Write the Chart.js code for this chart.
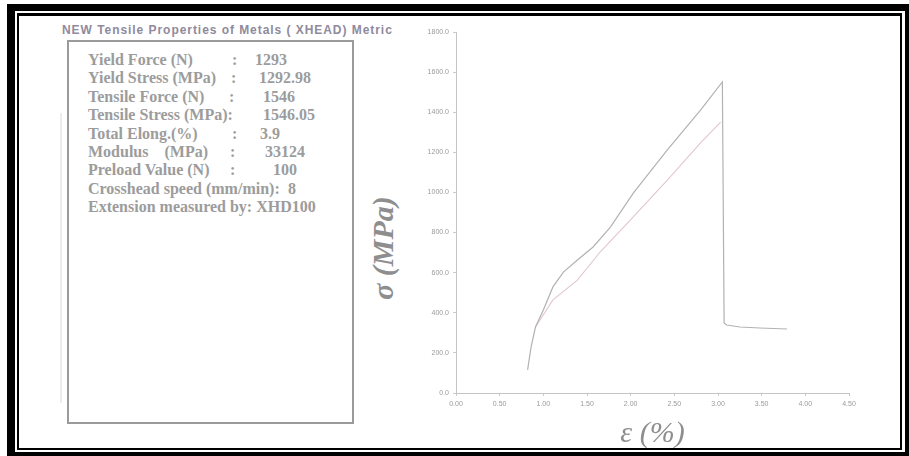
<!DOCTYPE html>
<html>
<head>
<meta charset="utf-8">
<script src="https://cdn.jsdelivr.net/npm/chart.js@4.4.1/dist/chart.umd.min.js"></script>
<style>
  html, body { margin: 0; padding: 0; background: #fff; }
  body { width: 909px; height: 456px; position: relative; overflow: hidden; }
  .bar { position: absolute; background: #000; }
  #report { position: absolute; left: 67px; top: 40px; width: 283px; height: 380px; border: 2px solid #9a9a9a; }
  #title { position: absolute; left: 62px; top: 23px; font: bold 12px "Liberation Sans", Arial, sans-serif; color: #8f8a9c; letter-spacing: 0.95px; white-space: nowrap; }
  .row { position: absolute; font: bold 16px "Liberation Serif", "Times New Roman", serif; color: #9c9c9c; white-space: nowrap; }
  #ghost { position: absolute; left: 60px; top: 113px; width: 2px; height: 290px; background: #ececec; }
  #ytitle { position: absolute; left: 383px; top: 248px; transform: translate(-50%, -50%) rotate(-90deg); font: italic bold 30px "Liberation Serif", "Times New Roman", serif; color: #8e8e8e; white-space: nowrap; }
  #wrap { position: absolute; left: 360px; top: 20px; width: 530px; height: 430px; }
</style>
</head>
<body>
<div class="bar" style="left:7px;top:4px;width:902px;height:7px"></div>
<div class="bar" style="left:7px;top:4px;width:8px;height:452px"></div>
<div class="bar" style="left:7px;top:452px;width:902px;height:4px"></div>
<div class="bar" style="left:905px;top:4px;width:4px;height:452px"></div>
<div class="bar" style="left:17px;top:13px;width:884px;height:3px"></div>
<div class="bar" style="left:17px;top:13px;width:2px;height:437px"></div>
<div class="bar" style="left:17px;top:448px;width:884px;height:2px"></div>
<div class="bar" style="left:900px;top:13px;width:2px;height:437px"></div>

<div id="title">NEW Tensile Properties of Metals ( XHEAD) Metric</div>
<div id="ghost"></div>
<div id="report"></div>
<div id="rows"></div>
<div id="ytitle">σ (MPa)</div>
<div id="wrap"><canvas id="chart" width="530" height="430"></canvas></div>

<script>
// report box text
const reportLabels = ['Yield Force (N)', 'Yield Stress (MPa)', 'Tensile Force (N)', 'Tensile Stress (MPa):', 'Total Elong.(%)', 'Modulus    (MPa)', 'Preload Value (N)', 'Crosshead speed (mm/min):', 'Extension measured by: XHD100']
const reportValues = ['1293', '1292.98', '1546', '1546.05', '3.9', '33124', '100', '8', '']

// stress-strain curve
const strain = [0.82, 0.86, 0.91, 1.00, 1.11, 1.23, 1.39, 1.57, 1.77, 2.03, 2.42, 2.80, 3.05, 3.07, 3.10, 3.25, 3.48, 3.79]
const stress = [115, 230, 329, 414, 529, 603, 663, 728, 828, 997, 1212, 1411, 1551, 349, 339, 329, 324, 319]

// modulus offset line
const offsetStrain = [0.91, 1.11, 1.39, 1.65, 2.03, 2.42, 2.80, 3.03]
const offsetStress = [329, 464, 563, 703, 878, 1062, 1247, 1351]

const xTicks = ['0.00', '0.50', '1.00', '1.50', '2.00', '2.50', '3.00', '3.50', '4.00', '4.50']
const yTicks = ['0.0', '200.0', '400.0', '600.0', '800.0', '1000.0', '1200.0', '1400.0', '1600.0', '1800.0']

// where the colon and the value sit in each row
const colonX = [232, 231, 229, null, 232, 230, 230, null, null]
const valueX = [255, 259, 263, 263, 260, 265, 273, 288, null]
const rows = document.getElementById('rows')
reportLabels.forEach((label, i) => {
  const top = 51 + i * 18.4
  const add = (text, left) => {
    const d = document.createElement('div')
    d.className = 'row'
    d.style.left = left + 'px'
    d.style.top = top + 'px'
    d.textContent = text
    rows.appendChild(d)
  }
  add(label.replace(/ {2,}/g, '\u00a0\u00a0\u00a0\u00a0'), 88)
  if (colonX[i] !== null) add(':', colonX[i])
  if (valueX[i] !== null) add(reportValues[i], valueX[i])
})

const pts = (xs, ys) => xs.map((x, i) => ({x: x, y: ys[i]}))

new Chart(document.getElementById('chart'), {
  type: 'scatter',
  data: {
    datasets: [{
      data: pts(strain, stress),
      showLine: true,
      borderColor: '#b2b2b2',
      borderWidth: 1.2,
      pointRadius: 0,
      tension: 0
    }, {
      data: pts(offsetStrain, offsetStress),
      showLine: true,
      borderColor: '#e2c6cb',
      borderWidth: 1.1,
      pointRadius: 0,
      tension: 0
    }]
  },
  options: {
    responsive: false,
    animation: false,
    layout: { padding: { top: 12, right: 41, left: 0, bottom: 0 } },
    plugins: { legend: { display: false }, tooltip: { enabled: false } },
    scales: {
      x: {
        type: 'linear',
        min: 0,
        max: 4.5,
        afterFit: s => { s.height = 57; s.paddingLeft = 0; s.paddingRight = 0 },
        afterBuildTicks: s => { s.ticks = xTicks.map(t => ({value: parseFloat(t)})) },
        ticks: {
          callback: (v, i) => xTicks[i],
          font: { size: 7, family: 'Liberation Sans' },
          color: '#9a9a9a',
          padding: 4,
          maxRotation: 0
        },
        grid: { drawOnChartArea: false, tickLength: 3, color: '#cccccc' },
        border: { color: '#c4c4c4', width: 1 },
        title: {
          display: true,
          text: 'ε (%)',
          font: { family: 'Liberation Serif', style: 'italic', size: 30, lineHeight: 1 },
          color: '#8e8e8e',
          padding: { top: 0, bottom: 1 }
        }
      },
      y: {
        min: 0,
        max: 1800,
        afterFit: s => { s.width = 96 },
        afterBuildTicks: s => { s.ticks = yTicks.map(t => ({value: parseFloat(t)})) },
        ticks: {
          callback: (v, i) => yTicks[i],
          font: { size: 7, family: 'Liberation Sans' },
          color: '#9a9a9a',
          padding: 4
        },
        grid: { drawOnChartArea: false, tickLength: 3, color: '#cccccc' },
        border: { color: '#c4c4c4', width: 1 }
      }
    }
  }
})
</script>
</body>
</html>
